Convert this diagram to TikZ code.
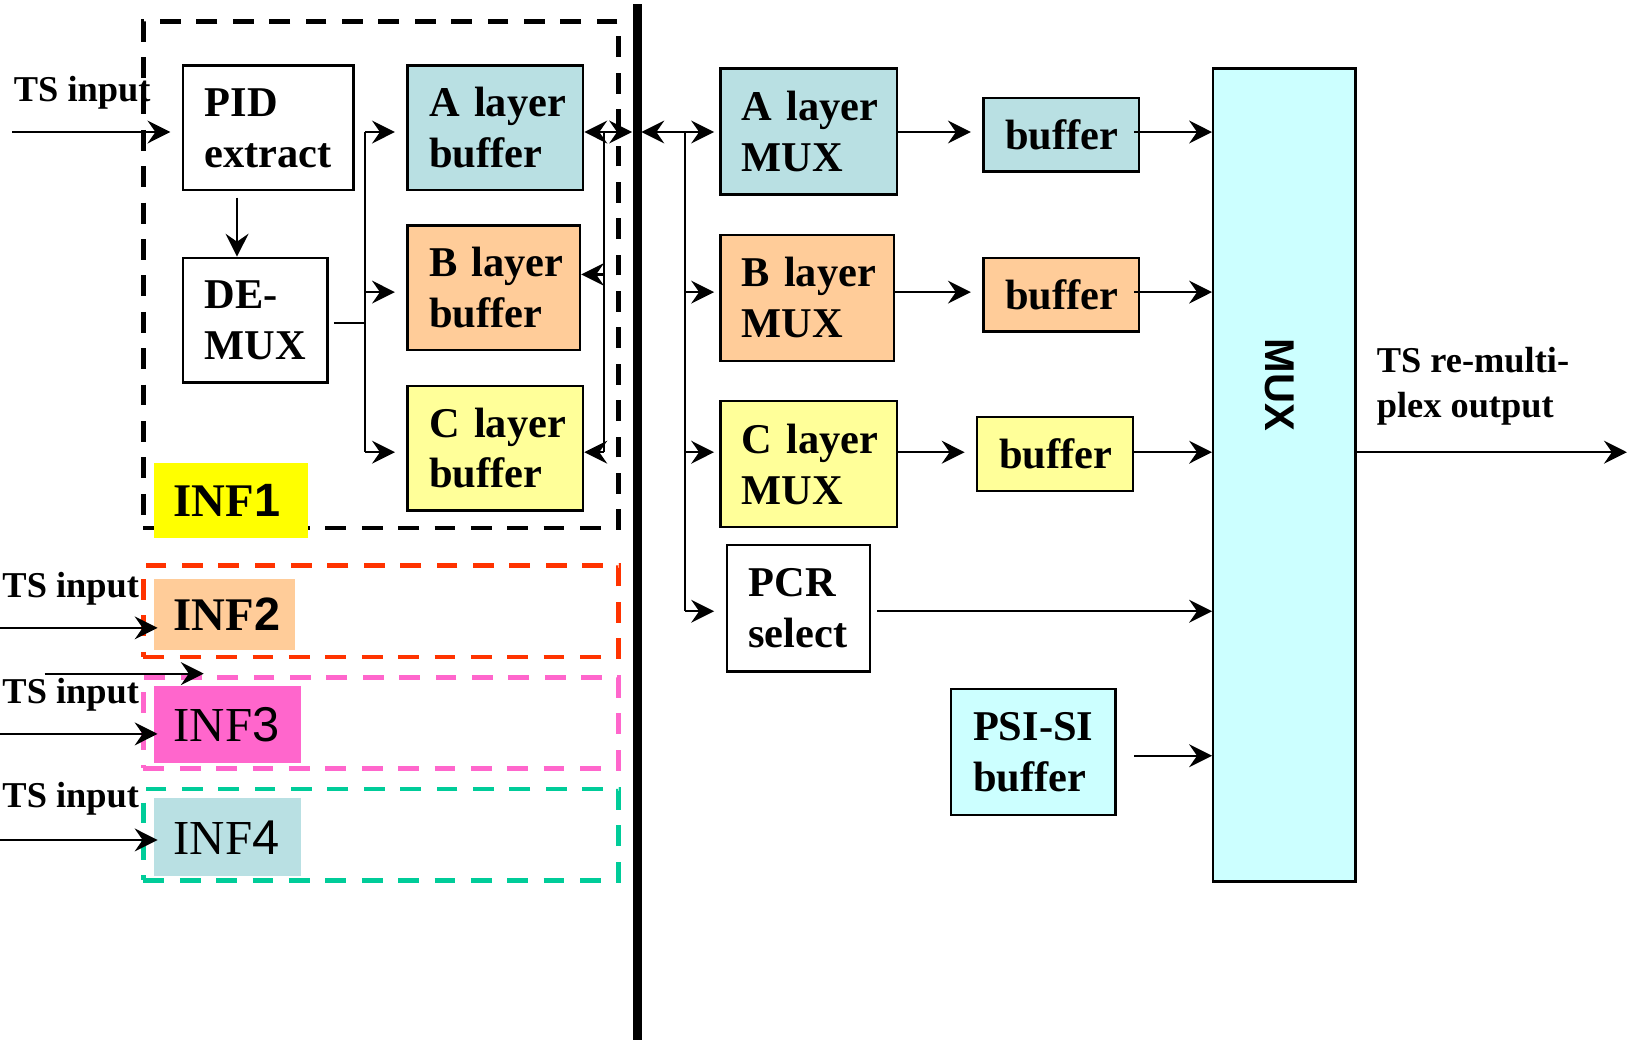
\documentclass[tikz,border=0pt]{standalone}
\usepackage{fontspec}
\setmainfont{Liberation Serif}
\newfontfamily\sansf{Liberation Sans}
\usetikzlibrary{arrows.meta}
\definecolor{lblue}{HTML}{B9E0E3}
\definecolor{peach}{HTML}{FFCC99}
\definecolor{lyel}{HTML}{FFFF99}
\definecolor{lcyan}{HTML}{CCFFFF}
\definecolor{yel}{HTML}{FFFF00}
\definecolor{pinkc}{HTML}{FF66CC}
\definecolor{redd}{HTML}{FF3300}
\definecolor{grn}{HTML}{00CC99}
\newcommand\bigf{\fontsize{20.4pt}{24.5pt}\selectfont\bfseries}
\newcommand\tsf{\fontsize{17.5pt}{21.5pt}\selectfont\bfseries}
\newcommand\infbf{\fontsize{22.5pt}{27pt}\selectfont\bfseries}
\newcommand\infrm{\fontsize{23.5pt}{28pt}\selectfont}
\newcommand\muxf{\fontsize{20pt}{24pt}\selectfont\sansf\bfseries}
% name, x1, y1, x2, y2, style, inset (ref px), text
\newcommand\bx[8]{%
  \pgfmathsetmacro\bw{(#4-#2)/2}%
  \pgfmathsetmacro\bh{(#5-#3)/2}%
  \pgfmathsetmacro\bi{#7/2}%
  \pgfmathsetmacro\tw{\bw-#7}%
  \node[#6, minimum width=\bw pt, minimum height=\bh pt, inner xsep=\bi pt,
        inner ysep=0pt, text width=\tw pt, align=left]
        (#1) at ({(#2+#4)/2},{(#3+#5)/2}) {#8};}
\begin{document}
\begin{tikzpicture}[x=0.5pt,y=-0.5pt,
  blk/.style={draw, line width=1.1pt, font=\bigf},
  grp/.style={line width=2.3pt, dash pattern=on 10pt off 7.5pt},
  ln/.style={line width=1.05pt},
  tip/.tip={Stealth[length=11pt,width=11pt,inset=3.8pt]},
  arr/.style={line width=1.05pt, -tip},
  darr/.style={line width=1.05pt, tip-tip},
  tsl/.style={font=\tsf, inner sep=0pt, anchor=base west}]
\useasboundingbox (0,0) rectangle (1568,1000);

% interface groups
\bx{g1}{138}{21}{595}{508}{grp,draw=black}{0}{}
\bx{g2}{138}{544}{595}{632}{grp,draw=redd}{0}{}
\bx{g3}{138}{652}{595}{739}{grp,draw=pinkc}{0}{}
\bx{g4}{138}{759}{595}{847}{grp,draw=grn}{0}{}

\bx{inf1}{148}{445}{296}{518}{fill=yel,font=\infbf}{19}{INF{\sansf 1}}
\bx{inf2}{148}{557}{284}{625}{fill=peach,font=\infbf}{19}{INF{\sansf 2}}
\bx{inf3}{148}{660}{290}{734}{fill=pinkc,font=\infrm}{19}{INF{\sansf 3}}
\bx{inf4}{148}{768}{290}{843}{fill=lblue,font=\infrm}{19}{INF{\sansf 4}}

% blocks
\bx{pid}{176}{63}{340}{183}{blk,fill=white}{21}{PID\\extract}
\bx{demux}{176}{248}{315}{368}{blk,fill=white}{21}{DE-\\MUX}
\bx{abuf}{392}{63}{561}{183}{blk,fill=lblue}{21}{\mbox{A layer}\\buffer}
\bx{bbuf}{392}{217}{558}{337}{blk,fill=peach}{21}{\mbox{B layer}\\buffer}
\bx{cbuf}{392}{371}{561}{491}{blk,fill=lyel}{21}{\mbox{C layer}\\buffer}
\bx{amux}{693}{66}{863}{187}{blk,fill=lblue}{20.5}{\mbox{A layer}\\MUX}
\bx{bmux}{693}{226}{860}{347}{blk,fill=peach}{20.5}{\mbox{B layer}\\MUX}
\bx{cmux}{693}{386}{863}{507}{blk,fill=lyel}{20.5}{\mbox{C layer}\\MUX}
\bx{pcr}{699}{524}{837}{646}{blk,fill=white}{21}{PCR\\select}
\bx{abf}{946}{94}{1096}{165}{blk,fill=lblue}{21}{buffer}
\bx{bbf}{946}{248}{1096}{319}{blk,fill=peach}{21}{buffer}
\bx{cbf}{940}{401}{1090}{472}{blk,fill=lyel}{21}{buffer}
\bx{psi}{915}{663}{1073}{784}{blk,fill=lcyan}{21}{PSI-SI\\buffer}
\bx{mux}{1167}{66}{1304}{848}{blk,fill=lcyan}{0}{}
\node[rotate=-90, font=\muxf, inner sep=0pt] (muxlbl) at (1230.5,370.5) {MUX};

% divider
\coordinate (bt) at (613,4);
\coordinate (bb) at (613,1000);
\draw[line width=4.3pt] (bt) -- (bb);

% row levels
\coordinate (yA) at (0,127);
\coordinate (yB) at (0,281);
\coordinate (yC) at (0,435);
\coordinate (yP) at (0,588);
\coordinate (yS) at (0,727);

% INF1 input
\coordinate (in1) at (12,127);
\draw[arr, shorten >=5.5pt] (in1) -- (pid.west |- in1);
\node[tsl] (ts1) at (13,98) {TS input};

\draw[arr] ([xshift=-15pt,yshift=-3pt]pid.south) -- ([xshift=-15pt]pid.south |- demux.north);

\coordinate (sp) at (351,311);
\draw[ln] ([xshift=2.5pt]demux.east |- sp) -- (sp);
\draw[ln] (sp |- yA) -- (sp |- yC);
\draw[arr, shorten >=5.5pt] (sp |- yA) -- (abuf.west |- yA);
\draw[arr, shorten >=5.5pt] (sp |- yB) -- (bbuf.west |- yB);
\draw[arr, shorten >=5.5pt] (sp |- yC) -- (cbuf.west |- yC);

\coordinate (lv) at (581,264);
\draw[darr, shorten >=2.5pt] (abuf.east |- yA) -- (bt |- yA);
\draw[ln] (lv |- yA) -- (lv |- yC);
\draw[arr] (lv) -- (bbuf.east |- lv);
\draw[arr] (lv |- yC) -- (cbuf.east |- yC);

% right side
\coordinate (rv) at (659,127);
\draw[darr, shorten <=2pt, shorten >=2.5pt] (bt |- yA) -- (amux.west |- yA);
\draw[ln] (rv) -- (rv |- yP);
\draw[arr, shorten >=2.5pt] (rv |- yB) -- (bmux.west |- yB);
\draw[arr, shorten >=2.5pt] (rv |- yC) -- (cmux.west |- yC);
\draw[arr, shorten >=5.5pt] (rv |- yP) -- (pcr.west |- yP);

\draw[arr, shorten >=5.5pt] (amux.east |- yA) -- (abf.west |- yA);
\draw[arr, shorten >=5.5pt] (bmux.east |- yB) -- (bbf.west |- yB);
\draw[arr, shorten >=5.5pt] (cmux.east |- yC) -- (cbf.west |- yC);

\draw[arr] ([xshift=-3pt]abf.east |- yA) -- (mux.west |- yA);
\draw[arr] ([xshift=-3pt]bbf.east |- yB) -- (mux.west |- yB);
\draw[arr] (cbf.east |- yC) -- (mux.west |- yC);
\draw[arr] ([xshift=3pt]pcr.east |- yP) -- (mux.west |- yP);
\draw[arr] ([xshift=8.5pt]psi.east |- yS) -- (mux.west |- yS);

\coordinate (out) at (1565,435);
\draw[arr] (mux.east |- out) -- (out);
\node[font=\tsf, align=left, anchor=north west, inner sep=0pt] (outlbl) at (1324,334) {TS re-multi-\\plex output};

% other interface inputs
\coordinate (in2) at (0,604);
\draw[arr, shorten >=-2pt] (in2) -- (inf2.west |- in2);
\node[tsl] (ts2) at (2,575) {TS input};
\coordinate (s1) at (43,648);
\coordinate (s2) at (196,648);
\draw[arr] (s1) -- (s2);
\coordinate (in3) at (0,706);
\draw[arr, shorten >=-2pt] (in3) -- (inf3.west |- in3);
\node[tsl] (ts3) at (2,677) {TS input};
\coordinate (in4) at (0,808);
\draw[arr, shorten >=-2pt] (in4) -- (inf4.west |- in4);
\node[tsl] (ts4) at (2,777) {TS input};
\end{tikzpicture}
\end{document}
